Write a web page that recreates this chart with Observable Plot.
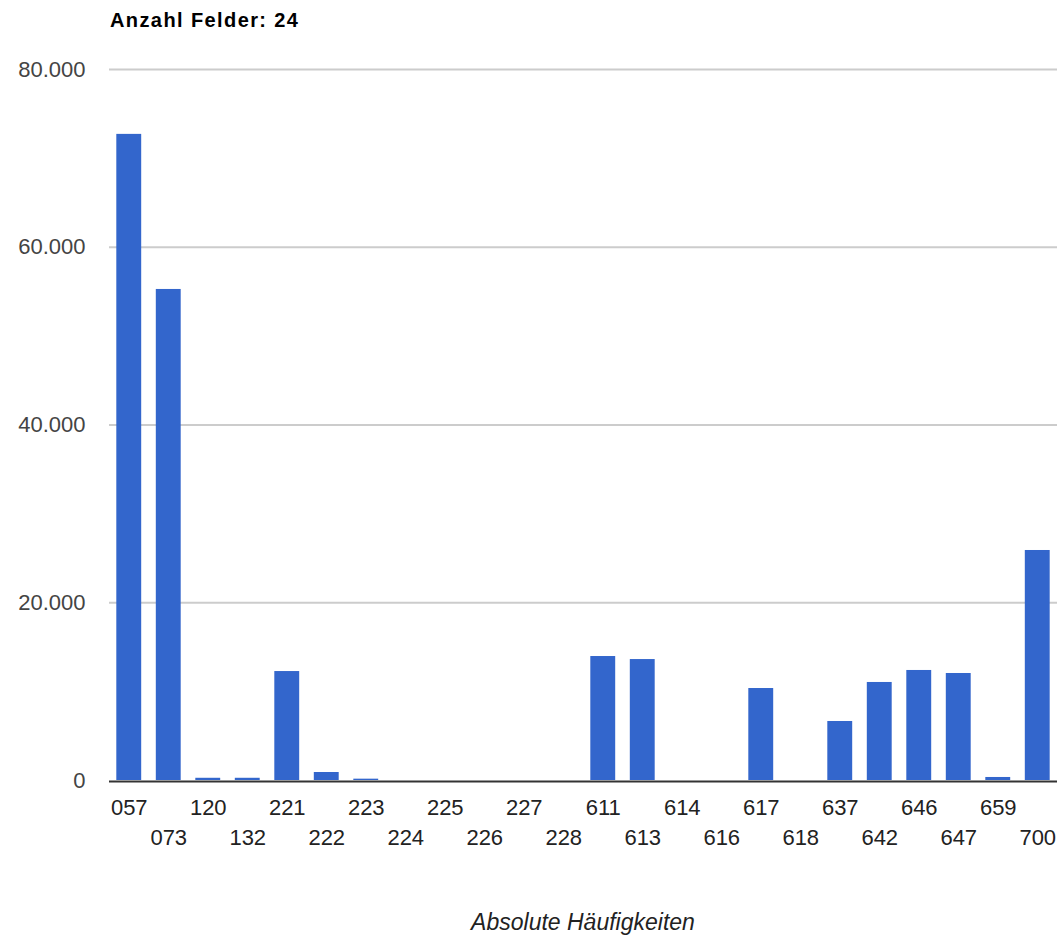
<!DOCTYPE html>
<html>
<head>
<meta charset="utf-8">
<script src="https://cdn.jsdelivr.net/npm/d3@7"></script>
<script src="https://cdn.jsdelivr.net/npm/@observablehq/plot@0.6"></script>
<style>
  html, body { margin: 0; padding: 0; background: #fff; }
  body { width: 1062px; height: 939px; position: relative; font-family: "Liberation Sans", Arial, sans-serif; }
  #title { position: absolute; left: 110px; top: 9px; font-size: 20px; font-weight: bold; color: #000; letter-spacing: 1.4px; white-space: nowrap; }
  #chart { position: absolute; left: 0; top: 40px; }
  #xtitle { position: absolute; left: 0; width: 1166px; top: 909px; text-align: center; font-size: 23px; font-style: italic; color: #222; white-space: nowrap; }
</style>
</head>
<body>
<div id="title">Anzahl Felder: 24</div>
<div id="chart"></div>
<div id="xtitle">Absolute Häufigkeiten</div>
<script>
const categories = ["057","073","120","132","221","222","223","224","225","226","227","228","611","613","614","616","617","618","637","642","646","647","659","700"];
const values = [72700, 55250, 250, 250, 12260, 900, 150, 0, 0, 0, 0, 0, 13950, 13610, 0, 0, 10350, 0, 6640, 11030, 12380, 12040, 340, 25880];
const yTicks = [0, 20000, 40000, 60000, 80000];

const data = categories.map((c, i) => ({cat: c, value: values[i]}));
const rowA = categories.filter((c, i) => i % 2 === 0);
const rowB = categories.filter((c, i) => i % 2 === 1);
const de = d3.formatLocale({decimal: ",", thousands: ".", grouping: [3], currency: ["", "€"]});
const fmt = de.format(",");

const chart = Plot.plot({
  width: 1062,
  height: 860,
  marginTop: 29,
  marginBottom: 120,
  marginLeft: 109,
  marginRight: 5,
  style: {fontFamily: '"Liberation Sans", Arial, sans-serif', fontSize: "22px", background: "#fff"},
  x: {type: "band", domain: categories, paddingInner: 0.37, paddingOuter: 0.185, round: false},
  y: {domain: [0, 80000]},
  marks: [
    Plot.gridY(yTicks.filter(d => d > 0), {stroke: "#ccc", strokeOpacity: 1, strokeWidth: 2}),
    Plot.barY(data, {x: "cat", y: "value", fill: "#3366cc"}),
    Plot.ruleY([0], {stroke: "#333", strokeWidth: 2, dy: 1}),
    Plot.axisY({ticks: yTicks, tickFormat: fmt, tickSize: 0, tickPadding: 24, label: null, fill: "#444", fontSize: 22}),
    Plot.axisX({ticks: rowA, tickSize: 0, tickPadding: 18.4, label: null, fill: "#222", fontSize: 22}),
    Plot.axisX({ticks: rowB, tickSize: 0, tickPadding: 48.4, label: null, fill: "#222", fontSize: 22})
  ]
});
document.getElementById("chart").appendChild(chart);
</script>
</body>
</html>
